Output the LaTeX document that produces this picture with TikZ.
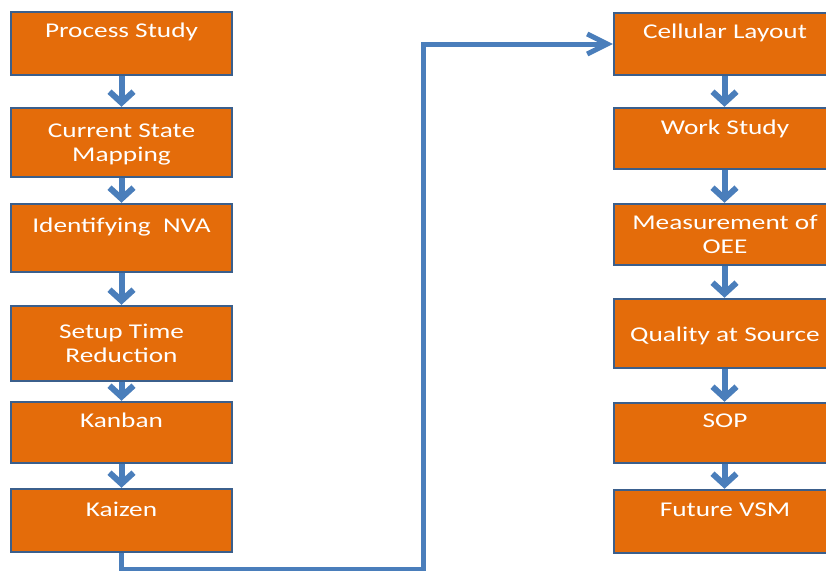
\documentclass[tikz,border=0pt]{standalone}
\usepackage{fontspec}
\setmainfont[FakeStretch=1.3]{Carlito}
\usetikzlibrary{arrows.meta}
\definecolor{boxfill}{HTML}{E46C0A}
\definecolor{boxline}{HTML}{3B5F8C}
\definecolor{flow}{HTML}{4A7EBB}
\tikzset{
    stage/.style={draw=boxline, fill=boxfill, line width=2.5pt, minimum width=221pt, inner sep=0pt},
    stagetext/.style={anchor=base, text=white, font=\fontsize{21}{24}\selectfont, align=center, inner sep=0pt},
    down/.style={draw=flow, line width=6pt, -{Straight Barb[length=11pt, width=24pt]}},
    loopback/.style={draw=flow, line width=5pt, -{Straight Barb[length=20pt, width=20pt]}}
}
\begin{document}
\begin{tikzpicture}[x=1pt, y=-1pt]
    \clip (0,0) rectangle (826,570);
    \node[stage, minimum height=63pt] (ps) at (121.5,43.5) {};
    \node[stage, minimum height=69pt] (csm) at (121.5,142.5) {};
    \node[stage, minimum height=68pt] (nva) at (121.5,238) {};
    \node[stage, minimum height=75pt] (str) at (121.5,343.5) {};
    \node[stage, minimum height=61pt] (kb) at (121.5,432.5) {};
    \node[stage, minimum height=63pt] (kz) at (121.5,520.5) {};
    \node[stage, minimum height=62pt] (cell) at (724.5,44) {};
    \node[stage, minimum height=61pt] (ws) at (724.5,138.5) {};
    \node[stage, minimum height=61pt] (oee) at (724.5,234.5) {};
    \node[stage, minimum height=69pt] (qas) at (724.5,333.5) {};
    \node[stage, minimum height=60pt] (sop) at (724.5,433) {};
    \node[stage, minimum height=63pt] (fvsm) at (724.5,521.5) {};
    \node[stagetext] (pst) at (121.5,37) {Process Study};
    \node[stagetext] (csmt) at (121.5,161.5) {Current State\\Mapping};
    \node[stagetext] (nvat) at (121.5,232) {Identifying~~NVA};
    \node[stagetext] (strt) at (121.5,362) {Setup Time\\Reduction};
    \node[stagetext] (kbt) at (121.5,427) {Kanban};
    \node[stagetext] (kzt) at (121.5,516) {Kaizen};
    \node[stagetext] (cellt) at (725,38) {Cellular Layout};
    \node[stagetext] (wst) at (725,134) {Work Study};
    \node[stagetext] (oeet) at (725,253.5) {Measurement of\\OEE};
    \node[stagetext] (qast) at (725,341) {Quality at Source};
    \node[stagetext] (sopt) at (725,427) {SOP};
    \node[stagetext] (fvsmt) at (725,516) {Future VSM};
    \draw[down] (ps) -- (csm);
    \draw[down] (csm) -- (nva);
    \draw[down] (nva) -- (str);
    \draw[down] (str) -- (kb);
    \draw[down] (kb) -- (kz);
    \draw[down] (cell) -- (ws);
    \draw[down] (ws) -- (oee);
    \draw[down] (oee) -- (qas);
    \draw[down] (qas) -- (sop);
    \draw[down] (sop) -- (fvsm);
    \coordinate (low) at (423,569);
    \coordinate (high) at (423,44);
    \draw[loopback] (kz.south) |- (low) -- (high) -- (cell.west);
\end{tikzpicture}
\end{document}
